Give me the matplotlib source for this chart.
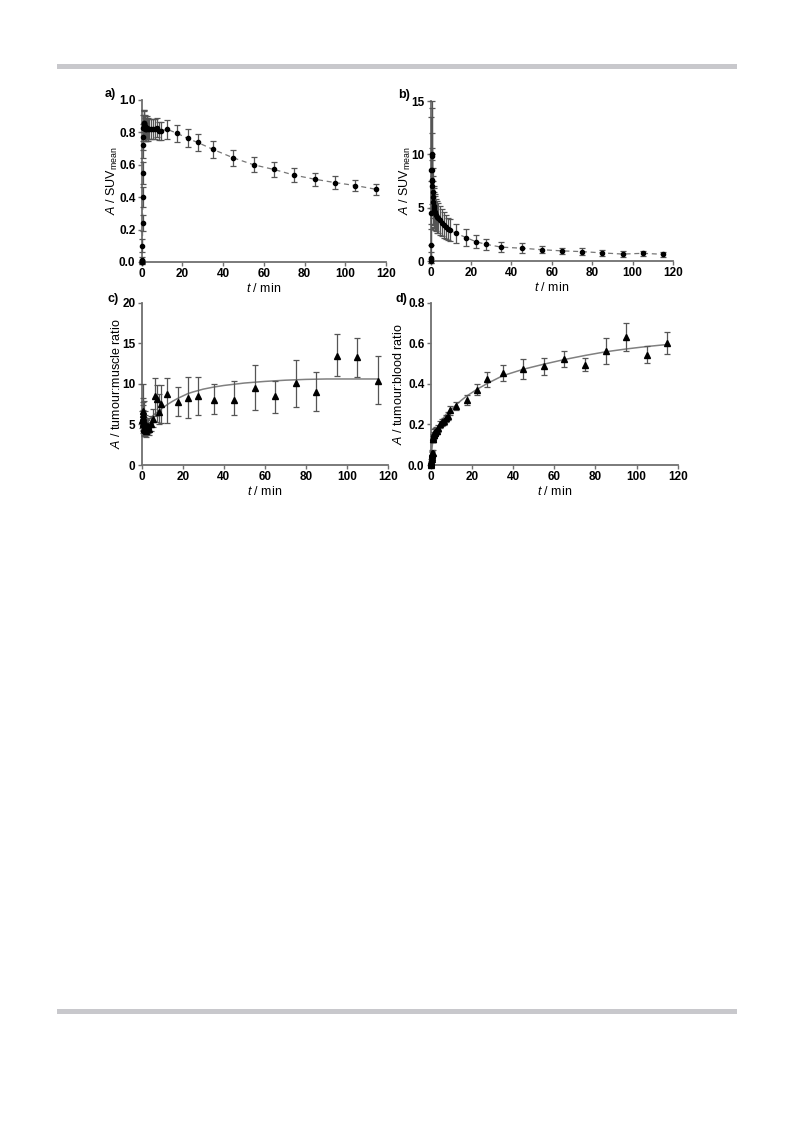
import matplotlib.pyplot as plt
from matplotlib.patches import Rectangle

plt.rcParams['font.family'] = ['Liberation Sans', 'DejaVu Sans']
plt.rcParams['mathtext.fontset'] = 'custom'
plt.rcParams['mathtext.rm'] = 'Liberation Sans'
plt.rcParams['mathtext.it'] = 'Liberation Sans:italic'

# frame mid-times (min)
t_frames = [0.04, 0.125, 0.21, 0.29, 0.375, 0.46, 0.54, 0.625, 0.71, 0.79, 0.875, 0.96,
            1.08, 1.25, 1.42, 1.58, 1.75, 1.92, 2.25, 2.75, 3.25, 3.75,
            4.5, 5.5, 6.5, 7.5, 8.5, 9.5,
            12.5, 17.5, 22.5, 27.5, 35, 45, 55, 65, 75, 85, 95, 105, 115]

# a) tumour SUVmean
suv_a = [0.0, 0.0, 0.0, 0.01, 0.10, 0.24, 0.40, 0.55, 0.72, 0.77, 0.83, 0.86,
         0.86, 0.85, 0.84, 0.83, 0.82, 0.82, 0.82, 0.83, 0.82, 0.82,
         0.82, 0.82, 0.82, 0.83, 0.81, 0.81,
         0.819, 0.794, 0.763, 0.738, 0.695, 0.643, 0.600, 0.571, 0.536, 0.511, 0.490, 0.472, 0.449]
err_a = [0.005, 0.005, 0.01, 0.02, 0.04, 0.05, 0.06, 0.07, 0.08, 0.08, 0.08, 0.08,
         0.08, 0.08, 0.07, 0.07, 0.07, 0.07, 0.07, 0.07, 0.07, 0.06,
         0.06, 0.06, 0.06, 0.06, 0.055, 0.055,
         0.058, 0.054, 0.056, 0.055, 0.051, 0.051, 0.047, 0.045, 0.045, 0.041, 0.040, 0.036, 0.035]

# b) blood SUVmean
suv_b = [0.0, 0.3, 1.5, 4.5, 8.5, 10.0, 9.8, 8.5, 7.6, 7.5, 7.0, 6.5,
         6.0, 5.5, 5.2, 5.0, 4.8, 4.6, 4.5, 4.3, 4.1, 4.0,
         3.8, 3.6, 3.4, 3.2, 3.0, 2.9,
         2.6, 2.2, 1.8, 1.56, 1.3, 1.2, 1.06, 0.95, 0.88, 0.76, 0.65, 0.72, 0.63]
err_b = [0.2, 0.5, 1.5, 3.0, 5.0, 5.0, 4.5, 3.5, 3.0, 2.5, 2.5, 2.2,
         2.0, 2.0, 1.8, 1.8, 1.7, 1.7, 1.6, 1.5, 1.5, 1.4,
         1.4, 1.3, 1.2, 1.1, 1.0, 1.0,
         0.9, 0.8, 0.6, 0.5, 0.45, 0.45, 0.3, 0.3, 0.3, 0.28, 0.25, 0.25, 0.25]

# c) tumour:muscle ratio (from 0.375 min)
t_c = t_frames[4:]
ratio_c = [5.6, 5.2, 5.9, 6.3, 6.6, 5.5, 5.0, 4.6,
           5.4, 4.4, 4.8, 5.1, 4.3, 4.6, 4.2, 4.5, 4.8, 4.4,
           5.0, 5.7, 8.5, 8.1, 6.5, 7.5,
           8.7, 7.8, 8.3, 8.5, 8.0, 8.0, 9.5, 8.45, 10.05, 9.0, 13.45, 13.25, 10.4]
lo_c = [1.0, 1.0, 1.2, 1.3, 1.3, 1.2, 1.0, 0.9,
        1.0, 0.8, 0.9, 0.9, 0.7, 0.8, 0.7, 0.7, 0.8, 0.7,
        0.8, 1.0, 2.5, 2.8, 1.4, 2.3,
        3.5, 1.8, 2.5, 2.3, 1.7, 1.8, 2.7, 2.05, 2.85, 2.3, 2.45, 2.35, 2.9]
hi_c = [1.0, 1.2, 1.5, 1.5, 1.6, 4.5, 1.8, 1.3,
        2.5, 1.2, 1.3, 1.5, 1.0, 1.1, 0.9, 1.0, 1.0, 0.9,
        1.0, 1.2, 2.2, 1.7, 2.2, 2.3,
        2.0, 1.8, 2.5, 2.3, 2.0, 2.3, 2.8, 1.95, 2.95, 2.4, 2.65, 2.45, 3.05]
fit_t_c = [0.5, 2, 4, 6, 8, 10, 12.5, 15, 17.5, 20, 22.5, 25, 30, 35, 40, 50, 60, 70, 80, 90, 115]
fit_y_c = [4.6, 5.1, 5.7, 6.2, 6.6, 7.0, 7.45, 7.85, 8.2, 8.5, 8.8, 9.0, 9.35, 9.6, 9.8,
           10.1, 10.3, 10.45, 10.55, 10.6, 10.6]

# d) tumour:blood ratio
ratio_d = [0.0, 0.005, 0.01, 0.015, 0.02, 0.03, 0.04, 0.05, 0.055, 0.06, 0.06, 0.13,
           0.13, 0.14, 0.15, 0.15, 0.16, 0.16, 0.165, 0.17, 0.17, 0.18,
           0.20, 0.21, 0.215, 0.23, 0.24, 0.27,
           0.29, 0.32, 0.37, 0.422, 0.454, 0.474, 0.486, 0.521, 0.495, 0.561, 0.630, 0.544, 0.602]
err_d = [0.003, 0.004, 0.005, 0.006, 0.008, 0.01, 0.01, 0.012, 0.012, 0.012, 0.012, 0.015,
         0.015, 0.015, 0.015, 0.015, 0.015, 0.015, 0.015, 0.015, 0.015, 0.015,
         0.016, 0.016, 0.017, 0.018, 0.019, 0.022,
         0.02, 0.024, 0.027, 0.036, 0.04, 0.048, 0.041, 0.039, 0.032, 0.063, 0.07, 0.042, 0.056]
fit_t_d = [0, 0.5, 1, 2, 3, 5, 7.5, 10, 12.5, 15, 17.5, 22.5, 27.5, 35, 45, 55, 65, 75, 85, 95, 105, 115]
fit_y_d = [0, 0.07, 0.115, 0.155, 0.18, 0.215, 0.25, 0.273, 0.298, 0.32, 0.34, 0.373, 0.402,
           0.44, 0.472, 0.497, 0.52, 0.54, 0.558, 0.572, 0.584, 0.594]

W, H = 793, 1121
fig = plt.figure(figsize=(W / 100, H / 100), dpi=100)

# grey rules of the page
for y0 in (64, 1009):
    fig.add_artist(Rectangle((57 / W, 1 - (y0 + 4.5) / H), 680 / W, 4.5 / H,
                             transform=fig.transFigure, color='#c8c8cc', lw=0))


def px_axes(x0, y0, x1, y1):
    return fig.add_axes([x0 / W, 1 - y1 / H, (x1 - x0) / W, (y1 - y0) / H])


def style(ax, ymax, yticks, yfmt, ylabel, letter, labx, letx, lety):
    ax.set_xlim(0, 120)
    ax.set_ylim(0, ymax)
    ax.set_xticks(range(0, 121, 20))
    ax.set_yticks(yticks)
    ax.set_yticklabels([yfmt.format(v) for v in yticks])
    for s in ('top', 'right'):
        ax.spines[s].set_visible(False)
    for s in ('left', 'bottom'):
        ax.spines[s].set_color('#707070')
        ax.spines[s].set_linewidth(1.3)
    ax.tick_params(length=3, width=1, color='#707070', pad=1.5, labelsize=8.5)
    for lab in ax.get_xticklabels() + ax.get_yticklabels():
        lab.set_fontweight('bold')
    ax.set_xlabel(r'$\mathit{t}$ / min', fontsize=9, labelpad=1)
    ax.set_ylabel(ylabel, fontsize=9)
    ax.yaxis.set_label_coords(labx, 0.5)
    ax.text(letx, lety, letter + ')', transform=ax.transAxes,
            fontsize=9, fontweight='bold', ha='center', va='center')


ekw = dict(ecolor='#555555', elinewidth=0.9, capsize=2.2, capthick=0.9, clip_on=False, zorder=3)

# a)
ax = px_axes(141.7, 100, 386, 262)
ax.errorbar(t_frames, suv_a, yerr=err_a, fmt='o', ms=3.0, mfc='black', mec='black', **ekw)
ax.plot(t_frames, suv_a, ls=(0, (4, 3)), color='#777777', lw=0.9, zorder=2)
style(ax, 1.0, [0, 0.2, 0.4, 0.6, 0.8, 1.0], '{:.1f}', r'$\mathit{A}$ / SUV$_{\mathrm{mean}}$',
      'a', -0.09, -0.128, 1.04)

# b)
ax = px_axes(430.7, 101, 673, 261)
ax.errorbar(t_frames, suv_b, yerr=err_b, fmt='o', ms=3.0, mfc='black', mec='black', **ekw)
ax.plot(t_frames, suv_b, ls=(0, (4, 3)), color='#777777', lw=0.9, zorder=2)
style(ax, 15, [0, 5, 10, 15], '{:.0f}', r'$\mathit{A}$ / SUV$_{\mathrm{mean}}$',
      'b', -0.075, -0.11, 1.04)

# c)
ax = px_axes(141.7, 302.7, 388, 465)
ax.errorbar(t_c, ratio_c, yerr=[lo_c, hi_c], fmt='^', ms=4, mfc='black', mec='black', **ekw)
ax.plot(fit_t_c, fit_y_c, color='#808080', lw=1.1, zorder=2)
style(ax, 20, [0, 5, 10, 15, 20], '{:.0f}', r'$\mathit{A}$ / tumour:muscle ratio',
      'c', -0.075, -0.115, 1.025)

# d)
ax = px_axes(430.7, 302.7, 677.7, 465)
ax.errorbar(t_frames, ratio_d, yerr=err_d, fmt='^', ms=4, mfc='black', mec='black', **ekw)
ax.plot(fit_t_d, fit_y_d, color='#808080', lw=1.1, zorder=2)
style(ax, 0.8, [0, 0.2, 0.4, 0.6, 0.8], '{:.1f}', r'$\mathit{A}$ / tumour:blood ratio',
      'd', -0.105, -0.12, 1.025)

fig.savefig('out.png', dpi=100)
